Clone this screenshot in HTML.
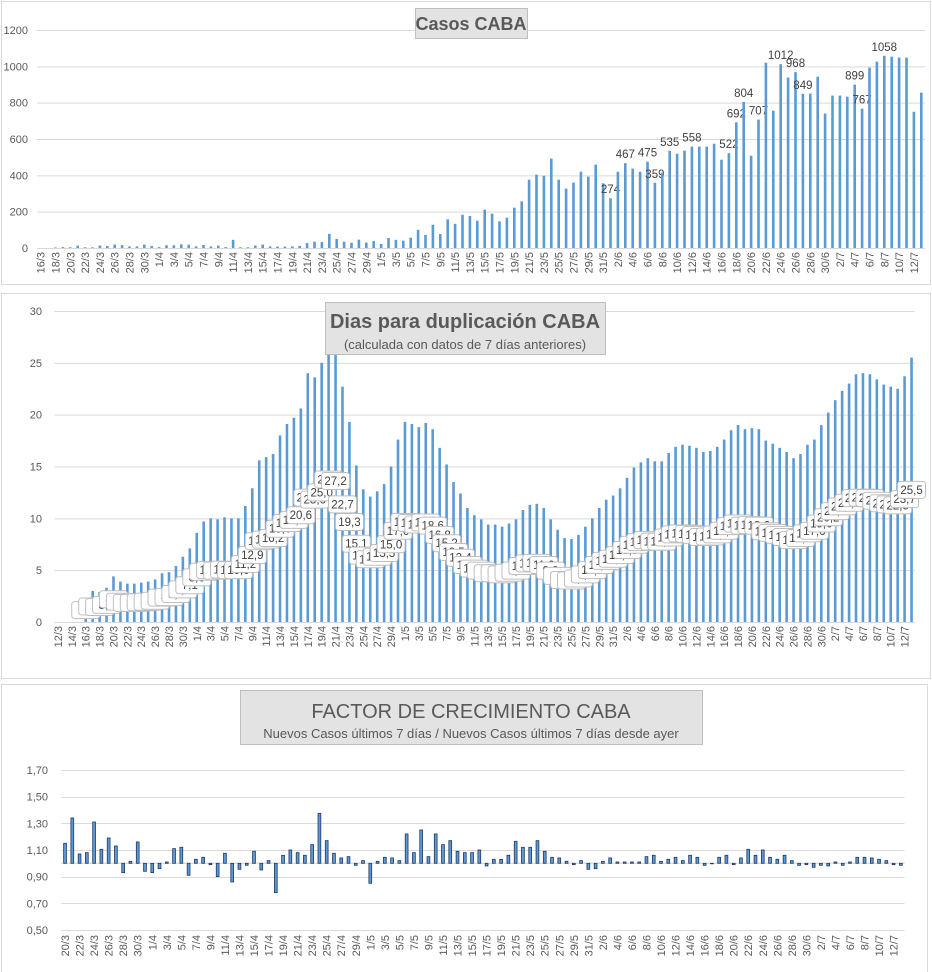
<!DOCTYPE html>
<html><head><meta charset="utf-8">
<style>
html,body{margin:0;padding:0;background:#fff;}
svg{display:block;font-family:"Liberation Sans",sans-serif;}
</style></head>
<body>
<svg id="chart" width="932" height="972" viewBox="0 0 932 972" xmlns="http://www.w3.org/2000/svg">
  <rect x="0" y="0" width="932" height="972" fill="#fff"/>
  <rect x="1.5" y="1.5" width="929" height="283" fill="none" stroke="#d9d9d9"/>
  <rect x="1.5" y="293.5" width="929" height="385" fill="none" stroke="#d9d9d9"/>
  <rect x="1.5" y="684.5" width="926" height="288" fill="none" stroke="#d9d9d9"/>
  <g id="g1"></g>
  <g id="g2"></g>
  <g id="g3"></g>
  <g>
    <rect x="415.5" y="8.5" width="112" height="30" fill="#e3e3e3" stroke="#bfbfbf"/>
    <text x="471" y="30" text-anchor="middle" font-size="18" font-weight="bold" fill="#595959">Casos  CABA</text>
  </g>
  <g>
    <rect x="325.5" y="302.5" width="280" height="52" fill="#e3e3e3" stroke="#bfbfbf"/>
    <text x="465" y="328" text-anchor="middle" font-size="20" font-weight="bold" fill="#595959">Dias para duplicación CABA</text>
    <text x="465" y="349" text-anchor="middle" font-size="13" fill="#595959">(calculada con datos de 7 días anteriores)</text>
  </g>
  <g>
    <rect x="240.5" y="690.5" width="462" height="54" fill="#e3e3e3" stroke="#bfbfbf"/>
    <text x="471" y="718" text-anchor="middle" font-size="20" fill="#595959">FACTOR DE CRECIMIENTO CABA</text>
    <text x="471" y="738" text-anchor="middle" font-size="13" fill="#595959">Nuevos Casos últimos 7 días / Nuevos Casos últimos 7 días desde ayer</text>
  </g>
</svg>
<script>
function makeDates(d, m, n) {
  const len = {3:31,4:30,5:31,6:30,7:31};
  const out = [];
  for (let i = 0; i < n; i++) { out.push(d + "/" + m); d++; if (d > len[m]) { d = 1; m++; } }
  return out;
}
// ---- Chart 1: Casos CABA ----
const casosDates = makeDates(16, 3, 120);
const casosValues = [0,0,3,5,4,13,4,4,14,11,19,16,9,9,19,11,
5,15,15,20,18,9,17,9,13,5,45,4,4,13,19,9,8,8,9,12,27,35,33,78,50,35,29,46,30,38,
22,55,45,40,57,100,72,128,77,158,133,183,176,150,211,189,147,167,222,257,376,404,398,492,376,327,360,420,393,459,356,
274,420,467,437,420,475,359,415,535,519,536,558,558,558,574,486,522,692,804,508,707,1020,756,1012,938,968,849,850,943,740,
839,839,833,899,767,993,1026,1058,1053,1048,1048,750,855];
const casosLabeled = ["1/6","3/6","6/6","7/6","9/6","12/6","17/6","18/6","19/6","21/6","24/6","26/6","27/6","4/7","5/7","8/7"];
const casosTicks = [0,200,400,600,800,1000,1200];
// ---- Chart 2: Dias para duplicacion ----
const dupDates = makeDates(12, 3, 124);
const dupValues = [0,0,0,0,1.3,3.0,2.9,3.3,4.4,3.9,3.7,3.7,3.8,3.9,4.1,4.7,4.8,5.4,6.3,7.1,
8.6,9.7,10.0,9.9,10.1,10.0,10.0,11.2,12.9,15.6,15.9,16.2,18.0,19.1,19.7,20.6,24.0,23.6,25.0,27.5,27.2,22.7,19.3,15.1,12.8,12.1,12.6,13.3,15.0,17.6,
19.3,19.1,18.8,19.2,18.6,16.8,15.2,13.5,12.4,11.0,10.3,9.9,9.4,9.4,9.2,9.5,9.9,10.8,11.3,11.4,11.0,9.9,8.9,8.1,8.0,8.4,9.2,10.0,11.0,11.8,12.2,
12.9,13.9,14.9,15.4,15.8,15.5,15.5,16.3,16.9,17.1,17.0,16.8,16.4,16.5,16.9,17.6,18.5,19.0,18.6,18.7,18.6,17.5,17.2,16.8,16.4,15.8,16.2,17.1,17.6,19.0,
20.2,21.4,22.3,23.0,23.9,24.0,23.9,23.4,22.9,22.7,22.5,23.7,25.5];
const dupTicks = [0,5,10,15,20,25,30];
// ---- Chart 3: Factor de crecimiento ----
const facDates = makeDates(20, 3, 116);
const facValues = [1.15,1.34,1.07,1.08,1.31,1.105,1.19,1.13,0.93,1.015,1.16,0.94,
0.93,0.96,1.01,1.11,1.12,0.91,1.03,1.045,0.99,0.90,1.075,0.86,0.955,0.985,1.09,0.95,1.02,0.78,1.06,1.10,1.08,1.06,1.14,1.375,1.17,1.075,1.04,1.05,0.985,1.02,
0.85,1.015,1.045,1.04,1.02,1.22,1.08,1.25,1.05,1.22,1.14,1.17,1.09,1.08,1.08,1.10,0.98,1.03,1.03,1.06,1.165,1.12,1.12,1.17,1.09,1.045,1.04,1.015,0.99,1.02,0.955,
0.96,1.015,1.04,1.01,1.01,1.01,1.01,1.05,1.06,1.015,1.03,1.045,1.02,1.06,1.045,0.985,1.00,1.045,1.06,0.99,1.04,1.105,1.06,1.10,1.045,1.03,1.06,1.02,0.985,0.99,
0.97,0.985,0.98,1.01,0.985,1.01,1.045,1.045,1.04,1.03,1.02,0.99,0.985];
const facTicks = [0.5,0.7,0.9,1.1,1.3,1.5,1.7];

const NS = "http://www.w3.org/2000/svg";
function mk(tag, attrs, parent) {
  const e = document.createElementNS(NS, tag);
  for (const k in attrs) e.setAttribute(k, attrs[k]);
  parent.appendChild(e);
  return e;
}
function fmt(v, d) { return v.toFixed(d).replace(".", ","); }

// ===== Chart 1 =====
(function(){
  const g = document.getElementById("g1");
  const L = 37, R = 925, base = 248, top = 30, maxV = 1200;
  const band = (R - L) / casosDates.length;
  const xC = i => L + band * (i + 0.5);
  const yS = v => base - (v / maxV) * (base - top);
  casosTicks.forEach(t => {
    const ln = mk("line", {x1:L, x2:R, y1:yS(t)+0.5, y2:yS(t)+0.5, stroke:"#d9d9d9", "stroke-width":1}, g);
    
    
    const tx = mk("text", {x:28, y:yS(t)+4, "text-anchor":"end", "font-size":11, fill:"#595959"}, g);
    tx.textContent = t;
    
    
  });
  casosValues.forEach((v, i) => {
    const r = mk("rect", {x:xC(i)-1.3, y:yS(v), width:2.6, height:base-yS(v), fill:"#5b9bd5"}, g);
    
    
    if (casosLabeled.indexOf(casosDates[i]) >= 0) {
      const t = mk("text", {x:xC(i), y:yS(v)-5, "text-anchor":"middle", "font-size":11.5, fill:"#404040"}, g);
      t.textContent = v;
      
      
    }
  });
  const ax = mk("line", {x1:L, x2:R, y1:base+0.5, y2:base+0.5, stroke:"#d9d9d9"}, g);
  
  
  casosDates.forEach((d, i) => {
    if (i % 2) return;
    const t = mk("text", {transform:"translate(" + (xC(i)+4) + "," + (base+4) + ") rotate(-90)", "text-anchor":"end", "font-size":11, fill:"#595959"}, g);
    t.textContent = d;
    
    
  });
})();

// ===== Chart 2 =====
(function(){
  const g = document.getElementById("g2");
  const L = 54.5, R = 915, base = 622, top = 311, maxV = 30;
  const band = (R - L) / dupDates.length;
  const xC = i => L + band * (i + 0.5);
  const yS = v => base - (v / maxV) * (base - top);
  dupTicks.forEach(t => {
    const ln = mk("line", {x1:L, x2:R, y1:yS(t)+0.5, y2:yS(t)+0.5, stroke:"#d9d9d9"}, g);
    
    
    const tx = mk("text", {x:42, y:yS(t)+4, "text-anchor":"end", "font-size":11, fill:"#595959"}, g);
    tx.textContent = t;
    
    
  });
  dupValues.forEach((v, i) => {
    const r = mk("rect", {x:xC(i)-1.3, y:yS(v), width:2.6, height:base-yS(v), fill:"#5b9bd5"}, g);
    
    
  });
  dupValues.forEach((v, i) => {
    if (v <= 0) return;
    const cy = Math.min(yS(v/2), yS(1.15));
    const bx = mk("rect", {x:xC(i)-14, y:cy-8.5, width:28, height:17, rx:3, fill:"#fff", stroke:"#bfbfbf"}, g);
    
    
    const t = mk("text", {x:xC(i), y:cy+4, "text-anchor":"middle", "font-size":11.5, fill:"#404040"}, g);
    t.textContent = fmt(v, 1);
    
    
  });
  dupDates.forEach((d, i) => {
    if (i % 2) return;
    const t = mk("text", {transform:"translate(" + (xC(i)+4) + "," + (base+4) + ") rotate(-90)", "text-anchor":"end", "font-size":11, fill:"#595959"}, g);
    t.textContent = d;
    
    
  });
})();

// ===== Chart 3 =====
(function(){
  const g = document.getElementById("g3");
  const L = 61.4, R = 904.5;
  const band = (R - L) / facDates.length;
  const xC = i => L + band * (i + 0.5);
  const yS = v => 863.3 - (v - 1) * (160 / 1.2);
  facTicks.forEach(t => {
    const ln = mk("line", {x1:L, x2:R, y1:Math.round(yS(t))+0.5, y2:Math.round(yS(t))+0.5, stroke:"#d9d9d9"}, g);
    
    
    const tx = mk("text", {x:48, y:yS(t)+4, "text-anchor":"end", "font-size":11, fill:"#595959"}, g);
    tx.textContent = fmt(t, 2);
    
    
  });
  const ax = mk("line", {x1:L, x2:R, y1:yS(1), y2:yS(1), stroke:"#d0d0d0"}, g);
  
  
  facValues.forEach((v, i) => {
    const y0 = Math.min(yS(v), yS(1)), h = Math.abs(yS(v) - yS(1));
    const r = mk("rect", {x:xC(i)-1.4, y:y0, width:2.8, height:Math.max(h,0.5), fill:"#5b9bd5", stroke:"#1f3864", "stroke-width":0.8}, g);
    
    
  });
  facDates.forEach((d, i) => {
    if (i % 2) return;
    const t = mk("text", {transform:"translate(" + (xC(i)+4) + "," + 935 + ") rotate(-90)", "text-anchor":"end", "font-size":11, fill:"#595959"}, g);
    t.textContent = d;
    
    
  });
})();
</script>
</body></html>
